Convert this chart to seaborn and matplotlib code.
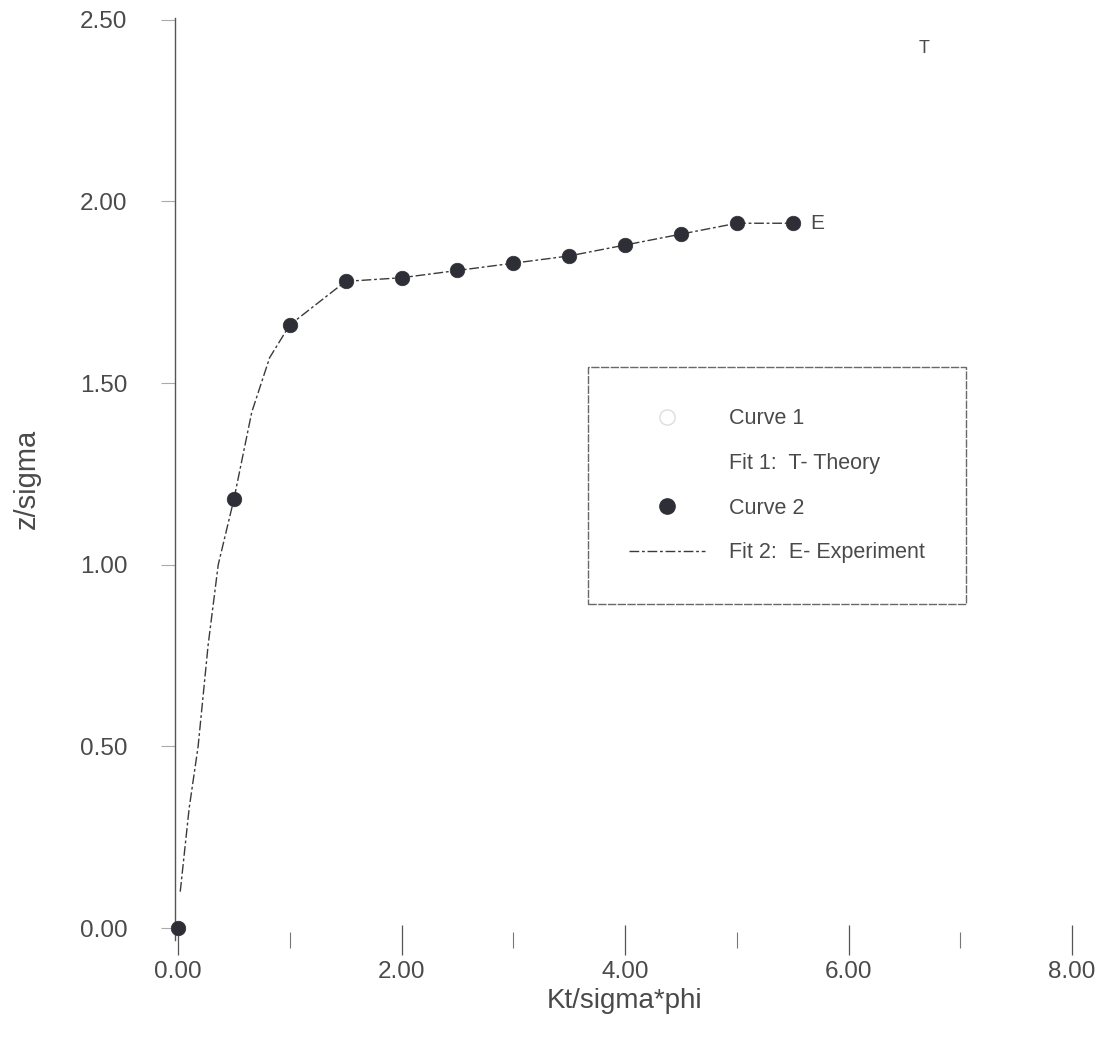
import numpy as np
import pandas as pd
import seaborn as sns
import matplotlib.pyplot as plt
from matplotlib.lines import Line2D

# Experimental points (Curve 2)
x_exp = [0.0, 0.5, 1.0, 1.5, 2.0, 2.5, 3.0, 3.5, 4.0, 4.5, 5.0, 5.5]
y_exp = [0.0, 1.18, 1.66, 1.78, 1.79, 1.81, 1.83, 1.85, 1.88, 1.91, 1.94, 1.94]

# Fit 2 (E- Experiment) line
x_fit = [0.02, 0.1, 0.18, 0.27, 0.36, 0.5, 0.66, 0.82, 1.0, 1.5, 2.0, 2.5, 3.0, 3.5, 4.0, 4.5, 5.0, 5.5]
y_fit = [0.10, 0.33, 0.50, 0.78, 1.00, 1.18, 1.42, 1.57, 1.66, 1.78, 1.79, 1.81, 1.83, 1.85, 1.88, 1.91, 1.94, 1.94]

x_ticks = [0, 2, 4, 6, 8]
y_ticks = [0, 0.5, 1.0, 1.5, 2.0, 2.5]

exp = pd.DataFrame({'x': x_exp, 'y': y_exp})
fit = pd.DataFrame({'x': x_fit, 'y': y_fit})

sns.set_style("white")
plt.rcParams['font.family'] = ['Liberation Sans', 'DejaVu Sans']

ink = '#3a3a3a'
txt = '#4a4a4a'

fig = plt.figure(figsize=(11.04, 10.45), dpi=100)
ax = fig.add_axes([178 / 1104, 1 - 940 / 1045, (1072 - 178) / 1104, (940 - 18) / 1045])

sns.lineplot(x='x', y='y', data=fit, ax=ax, color=ink, lw=1.0, sort=False,
             dashes=False, linestyle=(0, (7, 2, 2, 2)))
sns.scatterplot(x='x', y='y', data=exp, ax=ax, color='#2e2e36', s=110,
                edgecolor='#2e2e36', linewidth=0.5, zorder=5, clip_on=False)

ax.set_xlim(0, 8)
ax.set_ylim(-0.033, 2.505)
ax.set_xticks(x_ticks)
ax.set_xticks([1, 3, 5, 7], minor=True)
ax.set_xticklabels([f"{v:.2f}" for v in x_ticks])
ax.set_yticks(y_ticks)
ax.set_yticklabels([f"{v:.2f}" for v in y_ticks])

for s in ['top', 'right', 'bottom']:
    ax.spines[s].set_visible(False)
ax.spines['left'].set_color('#555555')
ax.spines['left'].set_linewidth(1.0)
ax.spines['left'].set_position(('data', -0.03))

ax.tick_params(axis='x', which='both', bottom=True)
ax.tick_params(axis='y', which='major', left=True)
ax.tick_params(axis='x', which='major', direction='inout', length=22, width=0.9,
               color='#555555', labelsize=17.5, labelcolor=txt, pad=4)
ax.tick_params(axis='x', which='minor', direction='inout', length=12, width=0.8,
               color='#777777')
ax.tick_params(axis='y', which='major', direction='out', length=10, width=0.8,
               color='#aaaaaa', labelsize=17.5, labelcolor=txt, pad=24)

ax.set_xlabel('Kt/sigma*phi', fontsize=20, color=txt, labelpad=4)
ax.set_ylabel('z/sigma', fontsize=21, color=txt, labelpad=28)

ax.text(6.68, 2.42, 'T', fontsize=13, color=txt, va='center', ha='center')
ax.text(5.72, 1.94, 'E', fontsize=15, color=txt, va='center', ha='center')

handles = [
    Line2D([], [], marker='o', ls='none', markersize=11, markerfacecolor='none',
           markeredgecolor='#dddddd'),
    Line2D([], [], ls='none'),
    Line2D([], [], marker='o', ls='none', markersize=11, color='#2e2e36'),
    Line2D([], [], color=ink, lw=1.0, linestyle=(0, (7, 2, 2, 2))),
]
labels = ['Curve 1', 'Fit 1:  T- Theory', 'Curve 2', 'Fit 2:  E- Experiment']
leg = ax.legend(handles, labels, loc='upper left', bbox_to_anchor=(0.459, 0.621),
                fontsize=15.5, frameon=True, fancybox=False, edgecolor='#444444',
                handlelength=3.5, handletextpad=1.15, labelspacing=1.1,
                borderpad=1.9, borderaxespad=0)
for t in leg.get_texts():
    t.set_color(txt)
leg.get_frame().set_linewidth(1.0)
leg.get_frame().set_linestyle((0, (6, 1)))

fig.savefig('out.png', dpi=100)
